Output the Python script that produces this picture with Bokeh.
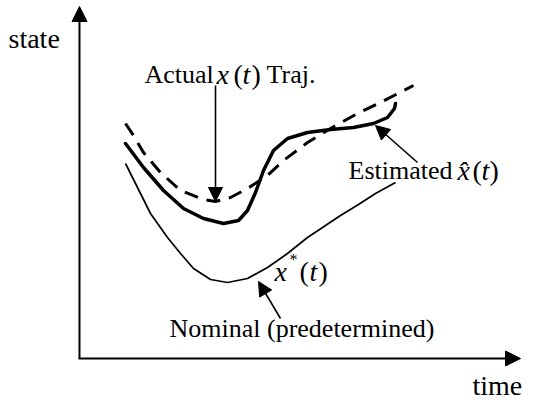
from bokeh.plotting import figure
from bokeh.models import Range1d, Arrow, NormalHead
from bokeh.core.properties import value
from bokeh.embed import file_html
from bokeh.resources import INLINE

# ---- data (time, state) in arbitrary units, origin at the axes' corner ----
actual_t = [46, 54, 64, 81, 101, 124, 136, 151, 168, 188, 204, 228, 251, 278, 301, 334]
actual_s = [235, 223, 206, 186, 168, 159, 157, 161, 170, 183, 198, 216, 230, 245, 256, 273]

est_t = [46, 64, 84, 104, 124, 144, 159, 168, 176, 184, 194, 208, 228, 251, 274, 294, 308, 315, 316]
est_s = [215, 191, 168, 150, 140, 135, 138, 148, 166, 188, 208, 220, 226, 229, 231, 235, 241, 250, 255]

nom_t = [46, 58, 71, 88, 101, 114, 131, 148, 168, 188, 208, 228, 261, 279, 296, 316]
nom_s = [195, 171, 145, 121, 105, 90, 79, 76, 80, 91, 105, 121, 143, 154, 165, 176]

x_label = "time"
y_label = "state"

FONT = "'Liberation Serif', 'Times New Roman', serif"
W, H = 535, 402
DY = 7  # compensation for the text baseline placement

p = figure(width=W, height=H, output_backend="svg", toolbar_location=None,
           x_range=Range1d(-79, 456), y_range=Range1d(-44, 358),
           min_border=0, background_fill_color="white", border_fill_color="white")
p.xaxis.visible = False
p.yaxis.visible = False
p.grid.visible = False
p.outline_line_color = None

# curves
p.line(actual_t, actual_s, line_color="black", line_width=3, line_dash="14 9")
p.line(est_t, est_s, line_color="black", line_width=3.5, line_join="round", line_cap="round")
p.line(nom_t, nom_s, line_color="black", line_width=1.7, line_join="round")

def arrow(x0, y0, x1, y1, lw=1.6, size=14):
    p.add_layout(Arrow(x_start=x0, y_start=y0, x_end=x1, y_end=y1,
                       line_width=lw, line_color="black",
                       end=NormalHead(size=size, fill_color="black", line_color="black", line_width=1)))

# axes
arrow(0, 0, 0, 352, lw=2, size=15)
arrow(-1, 0, 441, 0, lw=2, size=15)

# annotation arrows
arrow(136, 273, 136, 157)
arrow(338, 196, 296, 233)
arrow(201, 40, 179, 77)

def txt(x, y, s, style="normal", size="26px"):
    p.text([x], [y + DY], text=[s], text_font=value(FONT), text_font_style=style,
           text_font_size=value(size), text_color="black",
           text_baseline="alphabetic", text_align="left")

txt(-71, 313, y_label, size="28px")
txt(393, -34, x_label, size="28px")

# Actual x(t) Traj.
txt(65, 277, "Actual")
txt(137, 277, "x", "italic", "28px")
txt(154, 277, "(", "normal", "28px")
txt(163, 277, "t", "italic", "28px")
txt(172, 277, ")", "normal", "28px")
txt(187, 277, "Traj.")

# Estimated x^(t)
txt(269, 181, "Estimated")
txt(378, 181, "x\u0302", "italic", "28px")
txt(393, 181, "(", "normal", "28px")
txt(402, 181, "t", "italic", "28px")
txt(410, 181, ")", "normal", "28px")

# x*(t)
txt(195, 80, "x", "italic", "28px")
txt(210, 92, "*", "normal", "16px")
txt(220, 80, "(", "normal", "28px")
txt(230, 80, "t", "italic", "28px")
txt(239, 80, ")", "normal", "28px")

txt(90, 23, "Nominal (predetermined)")

open("out.html", "w").write(file_html(p, INLINE))
